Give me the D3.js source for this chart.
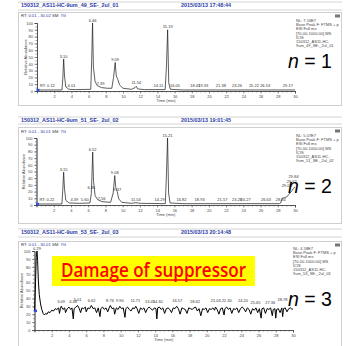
<!DOCTYPE html>
<html>
<head>
<meta charset="utf-8">
<script src="https://cdn.jsdelivr.net/npm/d3@7"></script>
<style>
body { margin: 0; background: #fff; }
svg { display: block; font-family: "Liberation Sans", Arial, sans-serif; }
</style>
</head>
<body>
<div id="chart"></div>
<script>
// ---- data ----
const titles = ['150312_AS11-HC-9um_49_SE-_2ul_01', '150312_AS11-HC-9um_51_SE-_2ul_02', '150312_AS11-HC-9um_53_SE-_2ul_03'];
const dates = ['2015/03/13 17:48:44', '2015/03/13 19:01:45', '2015/03/13 20:14:48'];
const rtRanges = ['0.01 - 30.02', '0.01 - 30.01', '0.01 - 30.01'];
const nlValues = ['7.16E7', '5.07E7', '4.58E7'];
const fileTags = ['9um_49_SE-_2ul_01', '9um_51_SE-_2ul_02', '9um_53_SE-_2ul_03'];
const runLabels = ['n = 1', 'n = 2', 'n = 3'];
const xTicks = [2, 4, 6, 8, 10, 12, 14, 16, 18, 20, 22, 24, 26, 28, 30];
const yTicks = [0, 10, 20, 30, 40, 50, 60, 70, 80, 90, 100];

// [time (min), relative abundance]
const trace1 = [[0, 1], [0.3, 1.5], [2.9, 1.5], [3.0, 18], [3.1, 47], [3.2, 22], [3.35, 6], [3.7, 2.5], [4.5, 2],
  [6.25, 2.5], [6.36, 45], [6.46, 100], [6.56, 35], [6.75, 14], [7.0, 8], [7.5, 5], [8.2, 4], [8.7, 4],
  [8.9, 20], [9.09, 42], [9.22, 22], [9.4, 17], [9.6, 9], [10.0, 4], [11.0, 2.5], [11.4, 5], [11.54, 7],
  [11.7, 3], [12.5, 2], [14.9, 2], [15.05, 35], [15.19, 90], [15.32, 12], [15.5, 2.5], [17, 1.5], [30, 1.5]];
const trace2 = [[0, 1], [0.3, 1.5], [2.95, 1.5], [3.05, 22], [3.15, 49], [3.25, 24], [3.4, 7], [3.8, 3], [5, 2.5],
  [6.2, 3], [6.36, 17], [6.44, 45], [6.52, 79], [6.62, 35], [6.8, 14], [7.1, 8], [7.6, 5], [8.6, 4],
  [8.9, 18], [9.08, 44], [9.2, 26], [9.37, 20], [9.55, 9], [9.9, 4], [11, 2.5], [11.54, 3.5], [12, 2.5],
  [14.95, 2], [15.08, 45], [15.21, 100], [15.33, 18], [15.5, 3], [17, 2], [28.2, 2], [28.34, 3], [28.5, 10],
  [28.8, 11], [29.03, 12], [29.3, 16], [29.62, 21], [29.84, 25], [30, 27]];
const trace3 = [[0, 24], [0.12, 60], [0.2, 92], [0.29, 100], [0.36, 88], [0.45, 62], [0.55, 45], [0.7, 33],
  [0.85, 26], [1.0, 21], [1.15, 19], [1.3, 21], [1.45, 20], [1.6, 23], [1.8, 22], [2.0, 25], [2.2, 24], [2.4, 27],
  [2.6, 26], [2.8, 28], [2.9, 21], [3.0, 27], [3.1, 30], [3.3, 26], [3.5, 28], [3.6, 22], [3.8, 27], [4.0, 29],
  [4.2, 26], [4.35, 28], [4.5, 14], [4.6, 27], [4.8, 29], [5.0, 31], [5.2, 27], [5.35, 22], [5.5, 28], [5.7, 27],
  [5.9, 29], [6.0, 23], [6.2, 28], [6.4, 27], [6.6, 31], [6.8, 27], [7.0, 28], [7.2, 22], [7.4, 28], [7.6, 17],
  [7.7, 27], [7.9, 29], [8.1, 26], [8.3, 28], [8.5, 23], [8.7, 29], [8.8, 31], [9.0, 27], [9.2, 28], [9.3, 20],
  [9.5, 28], [9.7, 26], [9.9, 30], [10.1, 27], [10.3, 28], [10.5, 16], [10.6, 27], [10.8, 29], [11.0, 26],
  [11.2, 24], [11.4, 28], [11.6, 27], [11.75, 30], [11.9, 27], [12.1, 21], [12.3, 28], [12.5, 26], [12.7, 28],
  [12.9, 22], [13.1, 27], [13.3, 29], [13.5, 27], [13.7, 25], [13.9, 28], [14.1, 27], [14.2, 14], [14.3, 28],
  [14.5, 29], [14.7, 26], [14.9, 28], [15.1, 21], [15.3, 27], [15.5, 28], [15.7, 26], [15.9, 22], [16.1, 28],
  [16.3, 27], [16.5, 30], [16.7, 27], [16.9, 20], [17.1, 28], [17.3, 27], [17.5, 26], [17.7, 21], [17.9, 28],
  [18.1, 27], [18.3, 26], [18.5, 28], [18.7, 29], [18.9, 24], [19.1, 27], [19.3, 18], [19.5, 27], [19.7, 26],
  [19.9, 28], [20.1, 22], [20.3, 27], [20.5, 26], [20.7, 28], [20.9, 25], [21.0, 29], [21.2, 26], [21.4, 20],
  [21.6, 27], [21.8, 28], [22.0, 19], [22.1, 27], [22.3, 29], [22.5, 26], [22.7, 28], [22.9, 21], [23.1, 27],
  [23.3, 26], [23.5, 28], [23.7, 22], [23.9, 27], [24.1, 29], [24.3, 27], [24.5, 23], [24.7, 28], [24.9, 26],
  [25.1, 20], [25.3, 27], [25.5, 25], [25.7, 28], [25.9, 22], [26.1, 27], [26.3, 15], [26.4, 27], [26.6, 28],
  [26.8, 21], [27.0, 27], [27.2, 26], [27.4, 28], [27.6, 18], [27.7, 26], [27.9, 27], [28.0, 15], [28.1, 26],
  [28.3, 27], [28.5, 22], [28.7, 28], [28.8, 17], [28.9, 27], [29.1, 28], [29.3, 23], [29.5, 27], [29.7, 28],
  [29.9, 26], [30, 27]];

// peak labels: [retention time, height the label sits on]
const labels1 = [[0.12, 3], [3.10, 47], [4.01, 3], [6.46, 100], [7.39, 6], [9.09, 42], [11.54, 8], [14.11, 3],
  [15.19, 90], [16.05, 3], [18.41, 3], [19.33, 3], [21.38, 3], [23.26, 3], [25.22, 3], [26.53, 3], [29.17, 3]];
const labels2 = [[0.22, 3], [3.15, 49], [4.39, 3], [5.60, 3], [6.36, 21], [6.52, 79], [7.56, 5], [9.08, 44],
  [9.37, 19], [11.54, 4], [14.29, 3], [15.21, 100], [16.82, 3], [18.93, 3], [21.57, 3], [23.28, 3], [24.27, 3],
  [26.63, 3], [28.34, 4], [29.03, 24], [29.62, 31], [29.84, 38]];
const labels3 = [[0.29, 100], [3.09, 32], [4.48, 32], [5.01, 35], [6.62, 34], [8.76, 34], [9.90, 33], [11.71, 33],
  [13.41, 32], [14.30, 32], [16.57, 33], [18.62, 32], [21.03, 33], [22.30, 33], [24.20, 33], [25.65, 31],
  [27.36, 31], [28.78, 35]];

const traces = [trace1, trace2, trace3];
const peakLabels = [labels1, labels2, labels3];

// ---- layout ----
let width = 347;
let height = 346;
let blue = '#2a3aa8';

let layouts = [
  { barTop: 2, barBottom: 10, frame: [12, 105], plot: [23, 91], x: [37, 295], titleY: 7, rtY: 17, infoX: 296, infoY: 22, nY: 68, yLabelX: 27 },
  { barTop: 117, barBottom: 124, frame: [127, 223], plot: [138, 205], x: [36.5, 295], titleY: 122, rtY: 133, infoX: 296, infoY: 137, nY: 193, yLabelX: 25 },
  { barTop: 229, barBottom: 237, frame: [241, 352], plot: [251, 330], x: [34.5, 293], titleY: 234, rtY: 246, infoX: 293, infoY: 250, nY: 306, yLabelX: 23 }
];

let svg = d3.select('#chart')
  .append('svg')
  .attr('width', width)
  .attr('height', height);

svg.append('rect').attr('width', width).attr('height', height).attr('fill', '#fff');

let fmt = d3.format('.2f');

layouts.forEach((L, i) => {
  let g = svg.append('g').classed('panel', true);

  // title bar + frame
  g.append('line').attr('x1', 18).attr('x2', 342).attr('y1', L.barTop).attr('y2', L.barTop).attr('stroke', '#d4d4d4');
  g.append('line').attr('x1', 18).attr('x2', 342).attr('y1', L.barBottom).attr('y2', L.barBottom).attr('stroke', '#d4d4d4');
  g.append('rect')
    .attr('x', 18.5).attr('y', L.frame[0] + 0.5)
    .attr('width', 323).attr('height', L.frame[1] - L.frame[0])
    .attr('fill', 'none').attr('stroke', '#cfcfcf');
  g.append('rect').attr('x', 335).attr('y', L.frame[0] + 2.5).attr('width', 5).attr('height', 3).attr('fill', '#777');

  g.append('text').attr('x', 21).attr('y', L.titleY)
    .attr('font-size', 5.4).attr('font-weight', 'bold').attr('fill', blue).text(titles[i]);
  g.append('text').attr('x', 181).attr('y', L.titleY)
    .attr('font-size', 5.4).attr('font-weight', 'bold').attr('fill', blue).text(dates[i]);

  let rt = g.append('text').attr('x', 21).attr('y', L.rtY).attr('font-size', 4.2);
  rt.append('tspan').attr('fill', '#333').text('RT: ');
  rt.append('tspan').attr('fill', blue).text(rtRanges[i] + '   ');
  rt.append('tspan').attr('fill', '#333').text('SM: ');
  rt.append('tspan').attr('fill', blue).text('7G');

  // info block
  let info = ['NL: ' + nlValues[i], 'Base Peak F: FTMS + p', 'ESI Full ms', '[70.00-1000.00]  MS', 'ICIS',
    '150312_AS11-HC-', fileTags[i]];
  g.append('g').selectAll('text').data(info).enter().append('text')
    .attr('x', L.infoX).attr('y', (d, k) => L.infoY + k * 4.2)
    .attr('font-size', 4).attr('fill', '#444').text(d => d);

  // scales + axes
  let xScale = d3.scaleLinear().domain([0, 30]).range(L.x);
  let yScale = d3.scaleLinear().domain([0, 100]).range([L.plot[1], L.plot[0]]);

  let xMinor = d3.axisBottom(xScale).tickValues(d3.range(0, 30.01, 0.5)).tickSize(1.5).tickFormat('');
  let xAxis = d3.axisBottom(xScale).tickValues(xTicks).tickSize(2.5).tickPadding(1.5);
  let yMinor = d3.axisLeft(yScale).tickValues(d3.range(0, 100.1, 5)).tickSize(1.5).tickFormat('');
  let yAxis = d3.axisLeft(yScale).tickValues(yTicks).tickSize(2.5).tickPadding(1.5);

  [xMinor, xAxis].forEach(a => {
    g.append('g').classed('axis', true)
      .attr('transform', `translate(0,${L.plot[1]})`)
      .call(a);
  });
  [yMinor, yAxis].forEach(a => {
    g.append('g').classed('axis', true)
      .attr('transform', `translate(${L.x[0]},0)`)
      .call(a);
  });
  g.selectAll('.axis').attr('font-size', 4).attr('font-family', '"Liberation Sans", Arial, sans-serif')
    .style('color', '#444');
  g.selectAll('.axis .domain').attr('stroke-width', 0.7);
  g.selectAll('.axis .tick line').attr('stroke-width', 0.5);

  g.append('text')
    .attr('x', (L.x[0] + L.x[1]) / 2).attr('y', L.plot[1] + 10.5)
    .attr('text-anchor', 'middle').attr('font-size', 4).attr('fill', '#444')
    .text('Time (min)');
  g.append('text')
    .attr('transform', `translate(${L.yLabelX},${(L.plot[0] + L.plot[1]) / 2}) rotate(-90)`)
    .attr('text-anchor', 'middle').attr('font-size', 4).attr('fill', '#444')
    .text('Relative Abundance');

  // trace
  let lineGenerator = d3.line()
    .x(d => xScale(d[0]))
    .y(d => yScale(d[1]));
  g.append('path')
    .attr('d', lineGenerator(traces[i]))
    .attr('fill', 'none')
    .attr('stroke', i === 2 ? '#000' : '#1a1a1a')
    .attr('stroke-width', i === 2 ? 1 : 0.7)
    .attr('stroke-linejoin', 'round');

  // start marker
  g.append('rect')
    .attr('x', xScale(0) - 0.5).attr('y', yScale(traces[i][0][1]) - 1.5)
    .attr('width', 3).attr('height', 2.5).attr('fill', '#3050e0');

  // peak labels
  g.append('g').selectAll('text').data(peakLabels[i]).enter().append('text')
    .attr('x', (d, k) => k === 0 && i < 2 ? xScale(0) + 3 : xScale(d[0]))
    .attr('y', d => yScale(d[1]) - 1.5)
    .attr('text-anchor', (d, k) => k === 0 && i < 2 ? 'start' : 'middle')
    .attr('font-size', 4).attr('fill', '#333')
    .text((d, k) => (k === 0 && i < 2 ? 'RT: ' : '') + fmt(d[0]));

  // run number
  let n = g.append('text').attr('x', 288).attr('y', L.nY).attr('font-size', 19.5).attr('fill', '#000');
  n.append('tspan').attr('font-style', 'italic').text(runLabels[i].slice(0, 1));
  n.append('tspan').text(runLabels[i].slice(1));
});

// annotation on the third run
let note = svg.append('g').classed('note', true);
note.append('rect')
  .attr('x', 52).attr('y', 256)
  .attr('width', 203).attr('height', 30)
  .attr('fill', '#ffff00');
note.append('text')
  .attr('x', 61).attr('y', 277)
  .attr('font-family', '"Open Sans", "Noto Sans", sans-serif')
  .attr('font-size', 20)
  .attr('font-weight', 600)
  .attr('textLength', 185).attr('lengthAdjust', 'spacingAndGlyphs')
  .attr('fill', '#ff0000')
  .text('Damage of suppressor');
note.append('line')
  .attr('x1', 61).attr('x2', 246)
  .attr('y1', 280).attr('y2', 280)
  .attr('stroke', '#ff0000').attr('stroke-width', 1.3);
</script>
</body>
</html>
